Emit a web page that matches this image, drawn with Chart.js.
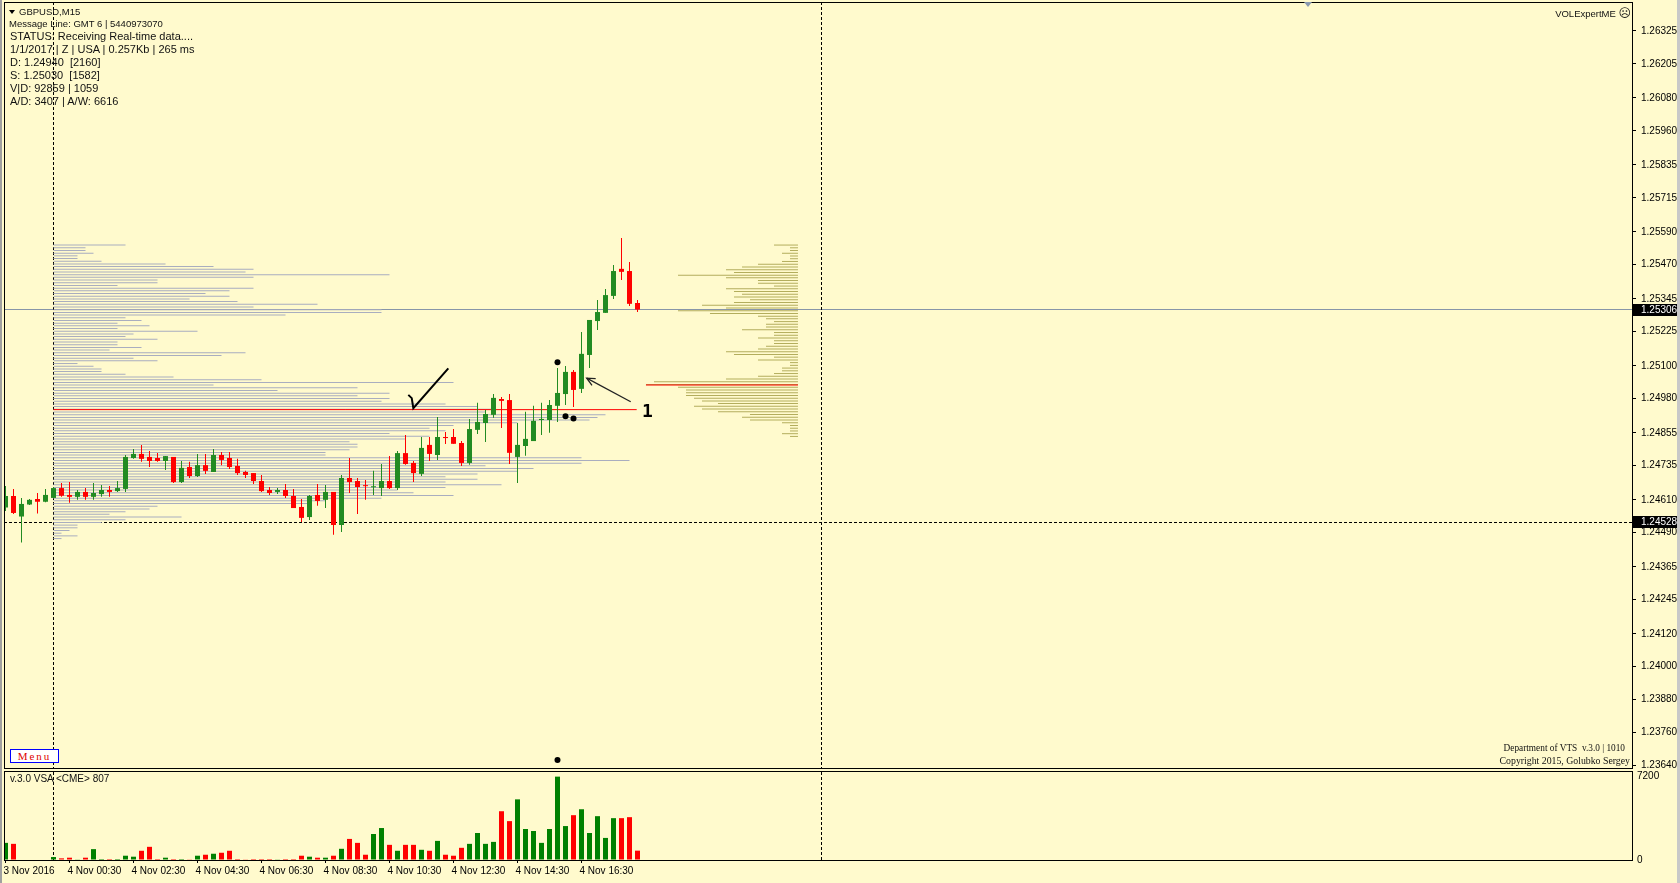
<!DOCTYPE html>
<html>
<head>
<meta charset="utf-8">
<title>GBPUSD,M15</title>
<script src="https://cdn.jsdelivr.net/npm/chart.js@4.4.1/dist/chart.umd.min.js"></script>
<style>
  html, body { margin: 0; padding: 0; }
  body { width: 1680px; height: 883px; background: #fffacd; position: relative; overflow: hidden;
         font-family: "Liberation Sans", Arial, sans-serif; color: #111; }
  canvas { position: absolute; left: 0; }
  #main { top: 0; }
  #vol { top: 770px; }
  .t { position: absolute; white-space: pre; line-height: 12px; }
  .frame { position: absolute; background: #a0a0a0; }
</style>
</head>
<body>
<canvas id="main" width="1680" height="770" style="width:1680px;height:770px"></canvas>
<canvas id="vol" width="1680" height="113" style="width:1680px;height:113px"></canvas>

<div class="frame" style="left:0;top:0;width:2px;height:883px"></div>
<div class="frame" style="left:1677px;top:0;width:3px;height:883px;background:#c8c8c8"></div>

<!-- info block top-left -->
<div style="position:absolute;left:9px;top:10px;width:0;height:0;border-left:3px solid transparent;border-right:3px solid transparent;border-top:4px solid #000"></div>
<div class="t" style="left:19px;top:6px;font-size:9.5px">GBPUSD,M15</div>
<div class="t" style="left:9px;top:18px;font-size:9.5px">Message Line: GMT 6 | 5440973070</div>
<div class="t" style="left:10px;top:30px;font-size:11px">STATUS: Receiving Real-time data....</div>
<div class="t" style="left:10px;top:43px;font-size:11px">1/1/2017 | Z | USA | 0.257Kb | 265 ms</div>
<div class="t" style="left:10px;top:56px;font-size:11px">D: 1.24940  [2160]</div>
<div class="t" style="left:10px;top:69px;font-size:11px">S: 1.25030  [1582]</div>
<div class="t" style="left:10px;top:82px;font-size:11px">V|D: 92859 | 1059</div>
<div class="t" style="left:10px;top:95px;font-size:11px">A/D: 3407 | A/W: 6616</div>

<div class="t" style="right:49px;top:7px;font-size:9.5px">VOLExpertME <span style="font-family:'DejaVu Sans';font-size:12px">&#9785;</span></div>
<div style="position:absolute;left:1304px;top:2px;width:0;height:0;border-left:4px solid transparent;border-right:4px solid transparent;border-top:5px solid #8a9ab0"></div>

<div style="position:absolute;left:10px;top:749px;width:47px;height:12px;border:1px solid #0000ff;background:#fff;color:#e00000;
            font:11px 'Liberation Serif',serif;letter-spacing:2px;text-align:center;line-height:12px">Menu</div>
<div class="t" style="right:55px;top:743px;font:9.3px 'Liberation Serif',serif;text-align:right">Department of VTS  v.3.0 | 1010</div>
<div class="t" style="right:50px;top:755px;font:9.8px 'Liberation Serif',serif;text-align:right">Copyright 2015, Golubko Sergey</div>

<div class="t" style="left:642px;top:400px;font:bold 18px 'DejaVu Sans Mono',monospace;color:#000">1</div>
<div class="t" style="left:10px;top:773px;font-size:10px">v.3.0 VSA &lt;CME&gt; 807</div>

<script>
// GBPUSD M15 ローソク足 (3 Nov 22:30 .. 4 Nov 18:15)
const opens = [
  1.24582, 1.24624, 1.24549, 1.24593, 1.24613, 1.24603, 1.24617, 1.24653, 1.24628, 1.24621,
  1.24639, 1.24621, 1.24631, 1.24646, 1.24642, 1.24650, 1.24763, 1.24778, 1.24767, 1.24763,
  1.24752, 1.24767, 1.24675, 1.24730, 1.24697, 1.24737, 1.24712, 1.24774, 1.24763, 1.24734,
  1.24712, 1.24708, 1.24679, 1.24646, 1.24639, 1.24646, 1.24624, 1.24584, 1.24547, 1.24628,
  1.24610, 1.24639, 1.24518, 1.24690, 1.24679, 1.24661, 1.24656, 1.24653, 1.24679, 1.24653,
  1.24781, 1.24745, 1.24705, 1.24811, 1.24774, 1.24840, 1.24840, 1.24818, 1.24745, 1.24866,
  1.24891, 1.24921, 1.24979, 1.24975, 1.24767, 1.24807, 1.24825, 1.24902, 1.24902, 1.24954,
  1.24997, 1.25078, 1.25016, 1.25140, 1.25264, 1.25294, 1.25356, 1.25455, 1.25447, 1.25330
];
const highs = [
  1.24661, 1.24650, 1.24617, 1.24613, 1.24635, 1.24650, 1.24657, 1.24672, 1.24675, 1.24646,
  1.24653, 1.24672, 1.24664, 1.24661, 1.24679, 1.24774, 1.24796, 1.24811, 1.24789, 1.24781,
  1.24770, 1.24767, 1.24752, 1.24749, 1.24778, 1.24778, 1.24796, 1.24785, 1.24785, 1.24760,
  1.24716, 1.24708, 1.24701, 1.24657, 1.24653, 1.24668, 1.24650, 1.24613, 1.24628, 1.24668,
  1.24664, 1.24639, 1.24701, 1.24763, 1.24690, 1.24683, 1.24716, 1.24741, 1.24770, 1.24789,
  1.24847, 1.24752, 1.24840, 1.24840, 1.24913, 1.24858, 1.24869, 1.24825, 1.24906, 1.24965,
  1.24939, 1.24997, 1.24986, 1.24997, 1.24891, 1.24932, 1.24954, 1.24965, 1.24975, 1.25092,
  1.25100, 1.25085, 1.25224, 1.25268, 1.25341, 1.25381, 1.25469, 1.25568, 1.25480, 1.25341
];
const lows = [
  1.24569, 1.24558, 1.24454, 1.24591, 1.24560, 1.24601, 1.24616, 1.24621, 1.24599, 1.24610,
  1.24610, 1.24610, 1.24621, 1.24621, 1.24639, 1.24639, 1.24760, 1.24749, 1.24730, 1.24749,
  1.24719, 1.24672, 1.24672, 1.24690, 1.24694, 1.24705, 1.24712, 1.24737, 1.24723, 1.24701,
  1.24690, 1.24668, 1.24639, 1.24628, 1.24631, 1.24617, 1.24580, 1.24529, 1.24536, 1.24588,
  1.24580, 1.24482, 1.24492, 1.24635, 1.24558, 1.24610, 1.24628, 1.24624, 1.24650, 1.24646,
  1.24738, 1.24675, 1.24697, 1.24752, 1.24756, 1.24814, 1.24815, 1.24734, 1.24738, 1.24851,
  1.24822, 1.24910, 1.24873, 1.24741, 1.24672, 1.24771, 1.24825, 1.24847, 1.24855, 1.24895,
  1.24957, 1.24950, 1.25001, 1.25092, 1.25231, 1.25294, 1.25345, 1.25414, 1.25319, 1.25297
];
const closes = [
  1.24624, 1.24562, 1.24595, 1.24610, 1.24603, 1.24628, 1.24653, 1.24625, 1.24621, 1.24639,
  1.24621, 1.24635, 1.24646, 1.24639, 1.24653, 1.24767, 1.24778, 1.24760, 1.24752, 1.24752,
  1.24770, 1.24675, 1.24727, 1.24697, 1.24737, 1.24716, 1.24774, 1.24756, 1.24730, 1.24708,
  1.24701, 1.24679, 1.24642, 1.24635, 1.24646, 1.24624, 1.24580, 1.24544, 1.24624, 1.24606,
  1.24639, 1.24518, 1.24690, 1.24675, 1.24657, 1.24660, 1.24657, 1.24679, 1.24653, 1.24781,
  1.24741, 1.24708, 1.24800, 1.24778, 1.24840, 1.24836, 1.24815, 1.24745, 1.24869, 1.24895,
  1.24924, 1.24983, 1.24972, 1.24782, 1.24811, 1.24833, 1.24899, 1.24906, 1.24957, 1.25001,
  1.25078, 1.25012, 1.25144, 1.25268, 1.25297, 1.25359, 1.25447, 1.25444, 1.25327, 1.25306
];
// VSA 出来高 (CME)
const volumes = [
  1480, 1395, null, null, null, null, 256, 142, 199, 57,
  199, 939, 85, 85, 85, 370, 285, 797, 1138, 85,
  199, 85, 85, 28, 370, 455, 541, 626, 797, 85,
  28, 85, 85, 85, 28, 85, 85, 370, 285, 199,
  199, 370, 968, 1821, 1480, 455, 2248, 2761, 1309, 797,
  1309, 1309, 882, 797, 1651, 455, 370, 1053, 1395, 2334,
  1395, 1565, 4212, 3358, 5237, 2675, 2504, 1480, 2675, 7200,
  2931, 3871, 4383, 2334, 3785, 1907, 3614, 3614, 3700, 807
];

// 軸ラベル
const timeTickBars = [0, 8, 16, 24, 32, 40, 48, 56, 64, 72];
const timeLabels = ['3 Nov 2016', '4 Nov 00:30', '4 Nov 02:30', '4 Nov 04:30', '4 Nov 06:30',
                    '4 Nov 08:30', '4 Nov 10:30', '4 Nov 12:30', '4 Nov 14:30', '4 Nov 16:30'];
const priceTicks = [1.26325, 1.26205, 1.26080, 1.25960, 1.25835, 1.25715, 1.25590, 1.25470,
                    1.25345, 1.25225, 1.25100, 1.24980, 1.24855, 1.24735, 1.24610, 1.24490,
                    1.24365, 1.24245, 1.24120, 1.24000, 1.23880, 1.23760, 1.23640];
const volumeTicks = [0, 7200];

// 価格帯別出来高 (左: 期間全体, 右: 当日) — 上の価格から1段ずつ
const leftProfileTop = 1.25542;
const leftProfileStep = 0.0000985;
const leftProfile = [
  9, 4, 4, 5, 3, 3, 6, 14, 20, 25, 24, 42, 25, 13, 13, 8, 25, 22, 19, 22,
  17, 23, 33, 25, 41, 41, 29, 9, 11, 8, 12, 8, 18, 10, 9, 13, 8, 8, 11, 7,
  24, 21, 10, 13, 3, 5, 6, 6, 9, 15, 26, 50, 20, 38, 28, 42, 38, 42, 41, 49,
  53, 55, 54, 69, 68, 67, 58, 50, 47, 49, 42, 47, 44, 37, 38, 38, 37, 34, 34, 66,
  72, 66, 54, 60, 58, 53, 49, 53, 49, 56, 49, 43, 45, 50, 41, 34, 32, 13, 12, 9,
  7, 16, 9, 6, 3, 3, 2, 1, 3, 1
];
const rightProfileTop = 1.25542;
const rightProfileStep = 0.0001;
const rightProfile = [
  3, 1, 1, 2, 1, 1, 2, 5, 7, 9, 8, 15, 9, 5, 5, 3, 9, 8, 7, 8,
  6, 8, 12, 9, 15, 11, 5, 4, 3, 4, 4, 7, 3, 3, 5, 3, 3, 4, 5, 9,
  8, 3, 5, 1, 1, 2, 2, 3, 5, 9, 18, 19, 15, 14, 14, 14, 13, 12, 10, 13,
  12, 10, 6, 7, 6, 2, 1, 1, 1, 2, 1
];

// 水準・マーカー
const currentPrice = 1.25306;
const crossPrice = 1.24528;
const levelD = 1.24940;
const levelS = 1.25030;
const separatorBars = [6, 102];
const dotBars = [69, 70, 71, 69];
const dotPrices = [1.25113, 1.24916, 1.24908, 1.23658];
const checkBars = [50.35, 50.78, 50.98, 55.35];
const checkPrices = [1.24994, 1.24982, 1.24945, 1.25091];
const arrowBars = [78.15, 72.65];
const arrowPrices = [1.24969, 1.25055];

const GREEN = '#228b22', RED = '#ff0000';
const VOL_GREEN = '#008000', VOL_RED = '#ff0000';
const BAR_PX = 8;
const PX_PER_PRICE = 27338;
const AREA_LEFT = 4, AREA_RIGHT = 1632, AXIS_W = 1680 - AREA_RIGHT;
const xMin = -0.1875;
const xMax = xMin + (AREA_RIGHT - AREA_LEFT) / BAR_PX;
const yMax = priceTicks[0] + 29 / PX_PER_PRICE;
const yMin = yMax - 766 / PX_PER_PRICE;

Chart.defaults.font.family = "'Liberation Sans', Arial, sans-serif";
Chart.defaults.font.size = 10;
Chart.defaults.color = '#000';

const idx = opens.map((_, i) => i);
const candleColors = idx.map(i => closes[i] >= opens[i] ? GREEN : RED);

// ペイン枠と破線
function paneDecor(isMain) {
  return {
    id: 'paneDecor',
    beforeDatasetsDraw(chart) {
      const {ctx, chartArea: a, scales: {x, y}} = chart;
      ctx.save();
      ctx.beginPath();
      ctx.rect(a.left, a.top, a.right - a.left, a.bottom - a.top);
      ctx.clip();
      ctx.lineWidth = 1;
      if (isMain) {
        const py = Math.floor(y.getPixelForValue(currentPrice)) + 0.5;
        ctx.strokeStyle = '#8795a8';
        ctx.beginPath(); ctx.moveTo(a.left, py); ctx.lineTo(a.right, py); ctx.stroke();
      }
      ctx.strokeStyle = '#000';
      ctx.setLineDash([3, 2]);
      separatorBars.forEach(b => {
        const px = Math.floor(x.getPixelForValue(b)) + 0.5;
        ctx.beginPath(); ctx.moveTo(px, a.top); ctx.lineTo(px, a.bottom); ctx.stroke();
      });
      if (isMain) {
        const py = Math.floor(y.getPixelForValue(crossPrice)) + 0.5;
        ctx.beginPath(); ctx.moveTo(a.left, py); ctx.lineTo(a.right, py); ctx.stroke();
      }
      ctx.restore();
    },
    afterDraw(chart) {
      const {ctx, chartArea: a, scales: {x, y}} = chart;
      ctx.save();
      ctx.strokeStyle = '#000';
      ctx.lineWidth = 1;
      if (isMain) {
        ctx.strokeRect(a.left + 0.5, a.top + 0.5, a.right - a.left, a.bottom - a.top);
        // 矢印の先
        const tx = x.getPixelForValue(arrowBars[1]), ty = y.getPixelForValue(arrowPrices[1]);
        const sx = x.getPixelForValue(arrowBars[0]), sy = y.getPixelForValue(arrowPrices[0]);
        const ang = Math.atan2(sy - ty, sx - tx);
        ctx.strokeStyle = '#222';
        ctx.lineWidth = 1.3;
        ctx.beginPath();
        ctx.moveTo(tx + 9 * Math.cos(ang - 0.45), ty + 9 * Math.sin(ang - 0.45));
        ctx.lineTo(tx, ty);
        ctx.lineTo(tx + 9 * Math.cos(ang + 0.45), ty + 9 * Math.sin(ang + 0.45));
        ctx.stroke();
        // 価格ラベル
        [currentPrice, crossPrice].forEach(p => {
          const py = Math.round(y.getPixelForValue(p));
          ctx.fillStyle = '#000';
          ctx.fillRect(a.right + 1, py - 6, 45, 12);
          ctx.fillStyle = '#fff';
          ctx.font = "10px 'Liberation Sans', Arial, sans-serif";
          ctx.textBaseline = 'middle';
          ctx.fillText(p.toFixed(5), a.right + 9, py + 0.5);
        });
      } else {
        ctx.strokeRect(a.left + 0.5, a.top - 0.5, a.right - a.left, a.bottom - a.top + 1);
      }
      ctx.restore();
    }
  };
}

function fixWidth(w) {
  return s => { s.width = w; s.paddingTop = 0; s.paddingBottom = 0; };
}

// メインペイン
new Chart(document.getElementById('main'), {
  type: 'bar',
  data: {
    datasets: [
      {
        type: 'bar', indexAxis: 'y',
        data: leftProfile.map((v, i) => ({y: leftProfileTop - i * leftProfileStep, x: [6, 6 + v]})),
        backgroundColor: '#a9adbf', barThickness: 1, grouped: false, inflateAmount: 0, order: 10
      },
      {
        type: 'bar', indexAxis: 'y',
        data: rightProfile.map((v, i) => ({y: rightProfileTop - i * rightProfileStep, x: [99.06 - v, 99.06]})),
        backgroundColor: '#b3ad5c', barThickness: 1, grouped: false, inflateAmount: 0, order: 10
      },
      {
        type: 'line', data: [{x: 6, y: levelD}, {x: 78.9, y: levelD}],
        borderColor: RED, borderWidth: 1, pointRadius: 0, order: 5
      },
      {
        type: 'line', data: [{x: 80.06, y: levelS}, {x: 99.06, y: levelS}],
        borderColor: RED, borderWidth: 1, pointRadius: 0, order: 5
      },
      {
        type: 'bar', data: idx.map(i => ({x: i, y: [lows[i], highs[i]]})),
        backgroundColor: candleColors, barThickness: 1, grouped: false, inflateAmount: 0, order: 2
      },
      {
        type: 'bar', data: idx.map(i => ({x: i, y: [opens[i], closes[i]]})),
        backgroundColor: candleColors, barThickness: 5, grouped: false, inflateAmount: 0,
        minBarLength: 1, order: 1
      },
      {
        type: 'line', data: checkBars.map((b, i) => ({x: b, y: checkPrices[i]})),
        borderColor: '#000', borderWidth: 2, pointRadius: 0, tension: 0, order: 0
      },
      {
        type: 'line', data: arrowBars.map((b, i) => ({x: b, y: arrowPrices[i]})),
        borderColor: '#222', borderWidth: 1.3, pointRadius: 0, order: 0
      },
      {
        type: 'line', data: dotBars.map((b, i) => ({x: b, y: dotPrices[i]})),
        showLine: false, pointRadius: 3, pointBackgroundColor: '#000', pointBorderWidth: 0, order: 0
      }
    ]
  },
  options: {
    responsive: false,
    animation: false,
    devicePixelRatio: 1,
    layout: {autoPadding: false, padding: {left: AREA_LEFT, top: 2, right: 0, bottom: 2}},
    plugins: {legend: {display: false}, tooltip: {enabled: false}},
    scales: {
      x: {type: 'linear', min: xMin, max: xMax, display: false, offset: false, grid: {offset: false}},
      y: {
        type: 'linear', position: 'right', beginAtZero: false, offset: false,
        min: yMin, max: yMax,
        afterBuildTicks: s => { s.ticks = priceTicks.map(v => ({value: v})); },
        afterFit: fixWidth(AXIS_W),
        ticks: {callback: v => v.toFixed(5), padding: 5, autoSkip: false, color: '#000'},
        grid: {drawOnChartArea: false, drawTicks: true, tickLength: 4, color: '#000', offset: false},
        border: {display: false}
      }
    }
  },
  plugins: [paneDecor(true)]
});

// 出来高ペイン
const volPoints = [], volColors = [];
volumes.forEach((v, i) => {
  if (v === null) return;
  volPoints.push({x: i, y: v});
  volColors.push(closes[i] >= opens[i] ? VOL_GREEN : VOL_RED);
});

new Chart(document.getElementById('vol'), {
  type: 'bar',
  data: {
    datasets: [{
      data: volPoints, backgroundColor: volColors, barThickness: 5, grouped: false, inflateAmount: 0
    }]
  },
  options: {
    responsive: false,
    animation: false,
    devicePixelRatio: 1,
    layout: {autoPadding: false, padding: {left: AREA_LEFT, top: 2, right: 0, bottom: 0}},
    plugins: {legend: {display: false}, tooltip: {enabled: false}},
    scales: {
      x: {
        type: 'linear', min: xMin, max: xMax, offset: false,
        afterBuildTicks: s => { s.ticks = timeTickBars.map(v => ({value: v})); },
        afterFit: s => { s.height = 23; s.paddingLeft = 0; s.paddingRight = 0; },
        ticks: {callback: v => timeLabels[timeTickBars.indexOf(v)], align: 'start', padding: 2,
                labelOffset: -2, autoSkip: false, maxRotation: 0, color: '#000'},
        grid: {drawOnChartArea: false, drawTicks: true, tickLength: 3, color: '#000', offset: false},
        border: {display: false}
      },
      y: {
        type: 'linear', position: 'right', min: 0, max: 7600, offset: false,
        afterBuildTicks: s => { s.ticks = volumeTicks.map(v => ({value: v})); },
        afterFit: fixWidth(AXIS_W),
        ticks: {callback: v => String(v), padding: 5, autoSkip: false, color: '#000'},
        grid: {drawOnChartArea: false, drawTicks: false, offset: false},
        border: {display: false}
      }
    }
  },
  plugins: [paneDecor(false)]
});
</script>
</body>
</html>
